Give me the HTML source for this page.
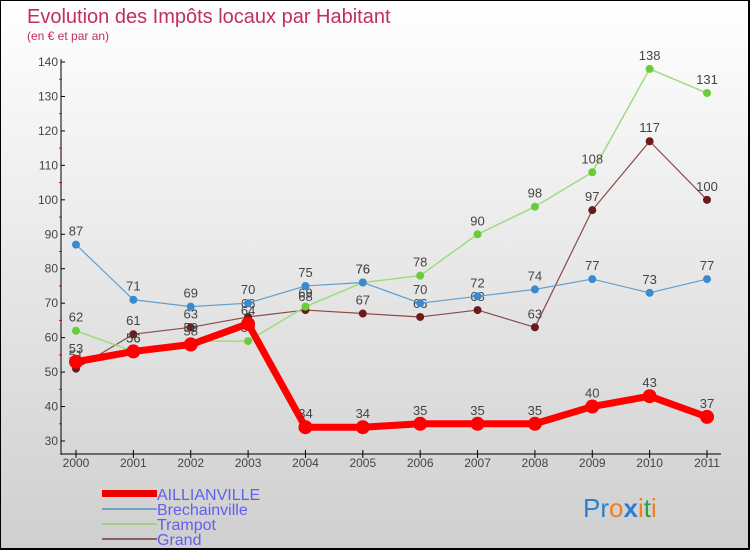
<!DOCTYPE html>
<html><head><meta charset="utf-8"><style>
body{margin:0}
#c{position:relative;width:750px;height:550px;box-sizing:border-box;border:1px solid #000;border-width:1px 2px 2px 1px;background:linear-gradient(#ffffff,#cfcfcf);font-family:"Liberation Sans",sans-serif;overflow:hidden}
svg text{font-family:"Liberation Sans",sans-serif}
</style></head><body>
<div id="c">
<svg id="s" width="750" height="550">
<text x="26" y="22" font-size="20" fill="#c0305a">Evolution des Impôts locaux par Habitant</text>
<text x="26" y="39" font-size="12" fill="#c0305a">(en € et par an)</text>
<g id="axes"></g><g id="series"></g>
<g>
<rect x="101" y="489" width="55" height="7" fill="#e00"/>
<text x="156" y="499" font-size="16" fill="#6060ee">AILLIANVILLE</text>
<line x1="101" y1="508" x2="156" y2="508" stroke="#6fa3c8" stroke-width="2"/>
<text x="156" y="514" font-size="16" fill="#6060ee">Brechainville</text>
<line x1="101" y1="523" x2="156" y2="523" stroke="#9fd080" stroke-width="2"/>
<text x="156" y="529" font-size="16" fill="#6060ee">Trampot</text>
<line x1="101" y1="538" x2="156" y2="538" stroke="#8a6060" stroke-width="2"/>
<text x="156" y="544" font-size="16" fill="#6060ee">Grand</text>
</g>
<text x="582" y="516" font-size="26"><tspan fill="#2a7fd0">Pr</tspan><tspan fill="#f08020">o</tspan><tspan fill="#2a7fd0" font-weight="bold">x</tspan><tspan fill="#f08020">i</tspan><tspan fill="#30a040">t</tspan><tspan fill="#f08020">i</tspan></text>
</svg></div>
<script>
const years=["2000","2001","2002","2003","2004","2005","2006","2007","2008","2009","2010","2011"];
const yTicks=[30,40,50,60,70,80,90,100,110,120,130,140];
const aillianville=[53,56,58,64,34,34,35,35,35,40,43,37];
const brechainville=[87,71,69,70,75,76,70,72,74,77,73,77];
const trampot=[62,56,59,59,69,76,78,90,98,108,138,131];
const grand=[51,61,63,66,68,67,66,68,63,97,117,100];
const NS="http://www.w3.org/2000/svg";
function X(i){return 75+i*(706-75)/11;}
function Y(v){return 440-(v-30)*(440-61)/110;}
function mk(tag,attrs,parent){const e=document.createElementNS(NS,tag);for(const k in attrs)e.setAttribute(k,attrs[k]);parent.appendChild(e);return e;}
const ax=document.getElementById('axes');
let l=mk('line',{x1:60,y1:58,x2:60,y2:454,stroke:'#000','stroke-width':1},ax);


l=mk('line',{x1:60,y1:453,x2:720,y2:453,stroke:'#000','stroke-width':1},ax);


yTicks.forEach(v=>{
 mk('line',{x1:60,y1:Y(v),x2:64,y2:Y(v),stroke:'#000'},ax);
 if(v<140)mk('line',{x1:58,y1:Y(v+5),x2:61,y2:Y(v+5),stroke:'#e00'},ax);
 const t=mk('text',{x:57,y:Y(v)+4,'font-size':12,'text-anchor':'end',fill:'#444'},ax);
 t.textContent=v;
 
 
});
years.forEach((y,i)=>{
 mk('line',{x1:X(i),y1:449,x2:X(i),y2:457,stroke:'#000'},ax);
 const t=mk('text',{x:X(i),y:466,'font-size':12,'text-anchor':'middle',fill:'#444'},ax);
 t.textContent=y;
 
 
});
const sg=document.getElementById('series');
function draw(name,data,color,dot,w,r){
 const g=mk('g',{},sg);
 
 
 const p=mk('polyline',{points:data.map((v,i)=>X(i)+','+Y(v)).join(' '),fill:'none',stroke:color,'stroke-width':w,'stroke-linejoin':'round'},g);
 
 
 data.forEach((v,i)=>{
  const c=mk('circle',{cx:X(i),cy:Y(v),r:r,fill:dot},g);
  
  
  const t=mk('text',{x:X(i),y:Y(v)-9,'font-size':13,'text-anchor':'middle',fill:'#444'},g);
  t.textContent=v;
  
  
 });
}
draw('grand',grand,'#8a4a4a','#6a1a1a',1.2,4);
draw('trampot',trampot,'#9fdc80','#6acc3a',1.5,4);
draw('brechainville',brechainville,'#5f9fd0','#3a8ad0',1.2,4);
draw('aillianville',aillianville,'#f00','#f00',7,7);
</script>
</body></html>
